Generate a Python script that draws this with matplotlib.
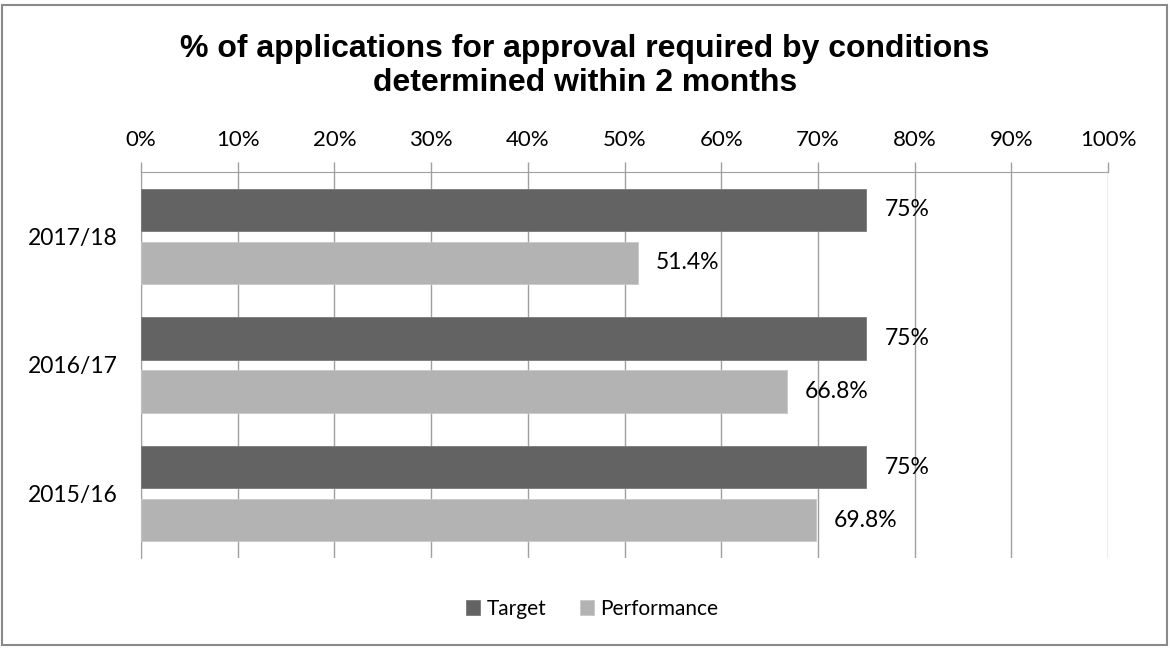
import numpy as np
import matplotlib.pyplot as plt
from matplotlib.patches import Rectangle
from matplotlib.ticker import PercentFormatter

years = ["2015/16", "2016/17", "2017/18"]
target = [75, 75, 75]
performance = [69.8, 66.8, 51.4]
target_labels = ["75%", "75%", "75%"]
perf_labels = ["69.8%", "66.8%", "51.4%"]

DARK = "#636363"
LIGHT = "#b3b3b3"
GRID = "#a0a0a0"
TICK_FONT = "Lato"

fig = plt.figure(figsize=(11.7, 6.48), dpi=100)
ax = fig.add_axes([141 / 1170, 1 - 558 / 648, (1108 - 141) / 1170, (558 - 172) / 648])

y = np.arange(len(years))
off = 0.206
h = 0.33
b1 = ax.barh(y + off, target, height=h, color=DARK, edgecolor="#7a7a7a", linewidth=0.6,
             label="Target", zorder=3)
b2 = ax.barh(y - off, performance, height=h, color=LIGHT, edgecolor="#c8c8c8", linewidth=0.6,
             label="Performance", zorder=3)
ax.bar_label(b1, labels=target_labels, padding=13, fontsize=16.5, family=TICK_FONT)
ax.bar_label(b2, labels=perf_labels, padding=13, fontsize=16.5, family=TICK_FONT)

ax.set_xlim(0, 100)
ax.set_ylim(-0.5, 2.5)
ax.set_xticks(np.arange(0, 101, 10))
ax.xaxis.set_major_formatter(PercentFormatter(decimals=0))
ax.xaxis.tick_top()
ax.tick_params(axis="x", direction="out", length=7, color=GRID, width=1, pad=9,
               labelsize=16)
ax.set_yticks(y)
ax.set_yticklabels(years)
ax.tick_params(axis="y", length=0, pad=17, labelsize=16.5)
for lab in ax.get_xticklabels() + ax.get_yticklabels():
    lab.set_family(TICK_FONT)

ax.grid(axis="x", color=GRID, linewidth=1, zorder=0)
for side in ["bottom", "right"]:
    ax.spines[side].set_visible(False)
ax.spines["top"].set_color(GRID)
ax.spines["left"].set_color(GRID)

fig.text(0.5, 1 - 66 / 648, "% of applications for approval required by conditions\ndetermined within 2 months",
         ha="center", va="center", fontsize=23, fontweight="bold", family="Liberation Sans",
         linespacing=1.2)

fig.legend(handles=[b1, b2], loc="center", bbox_to_anchor=(0.506, 1 - 609 / 648), ncol=2,
           frameon=False, handlelength=0.7, handleheight=0.7, handletextpad=0.3,
           columnspacing=1.6, prop={"family": TICK_FONT, "size": 15})

fig.add_artist(Rectangle((2 / 1170, 3 / 648), 1165 / 1170, 640 / 648, transform=fig.transFigure,
                         fill=False, edgecolor="#8a8a8a", linewidth=1.5))

fig.savefig("out.png")
